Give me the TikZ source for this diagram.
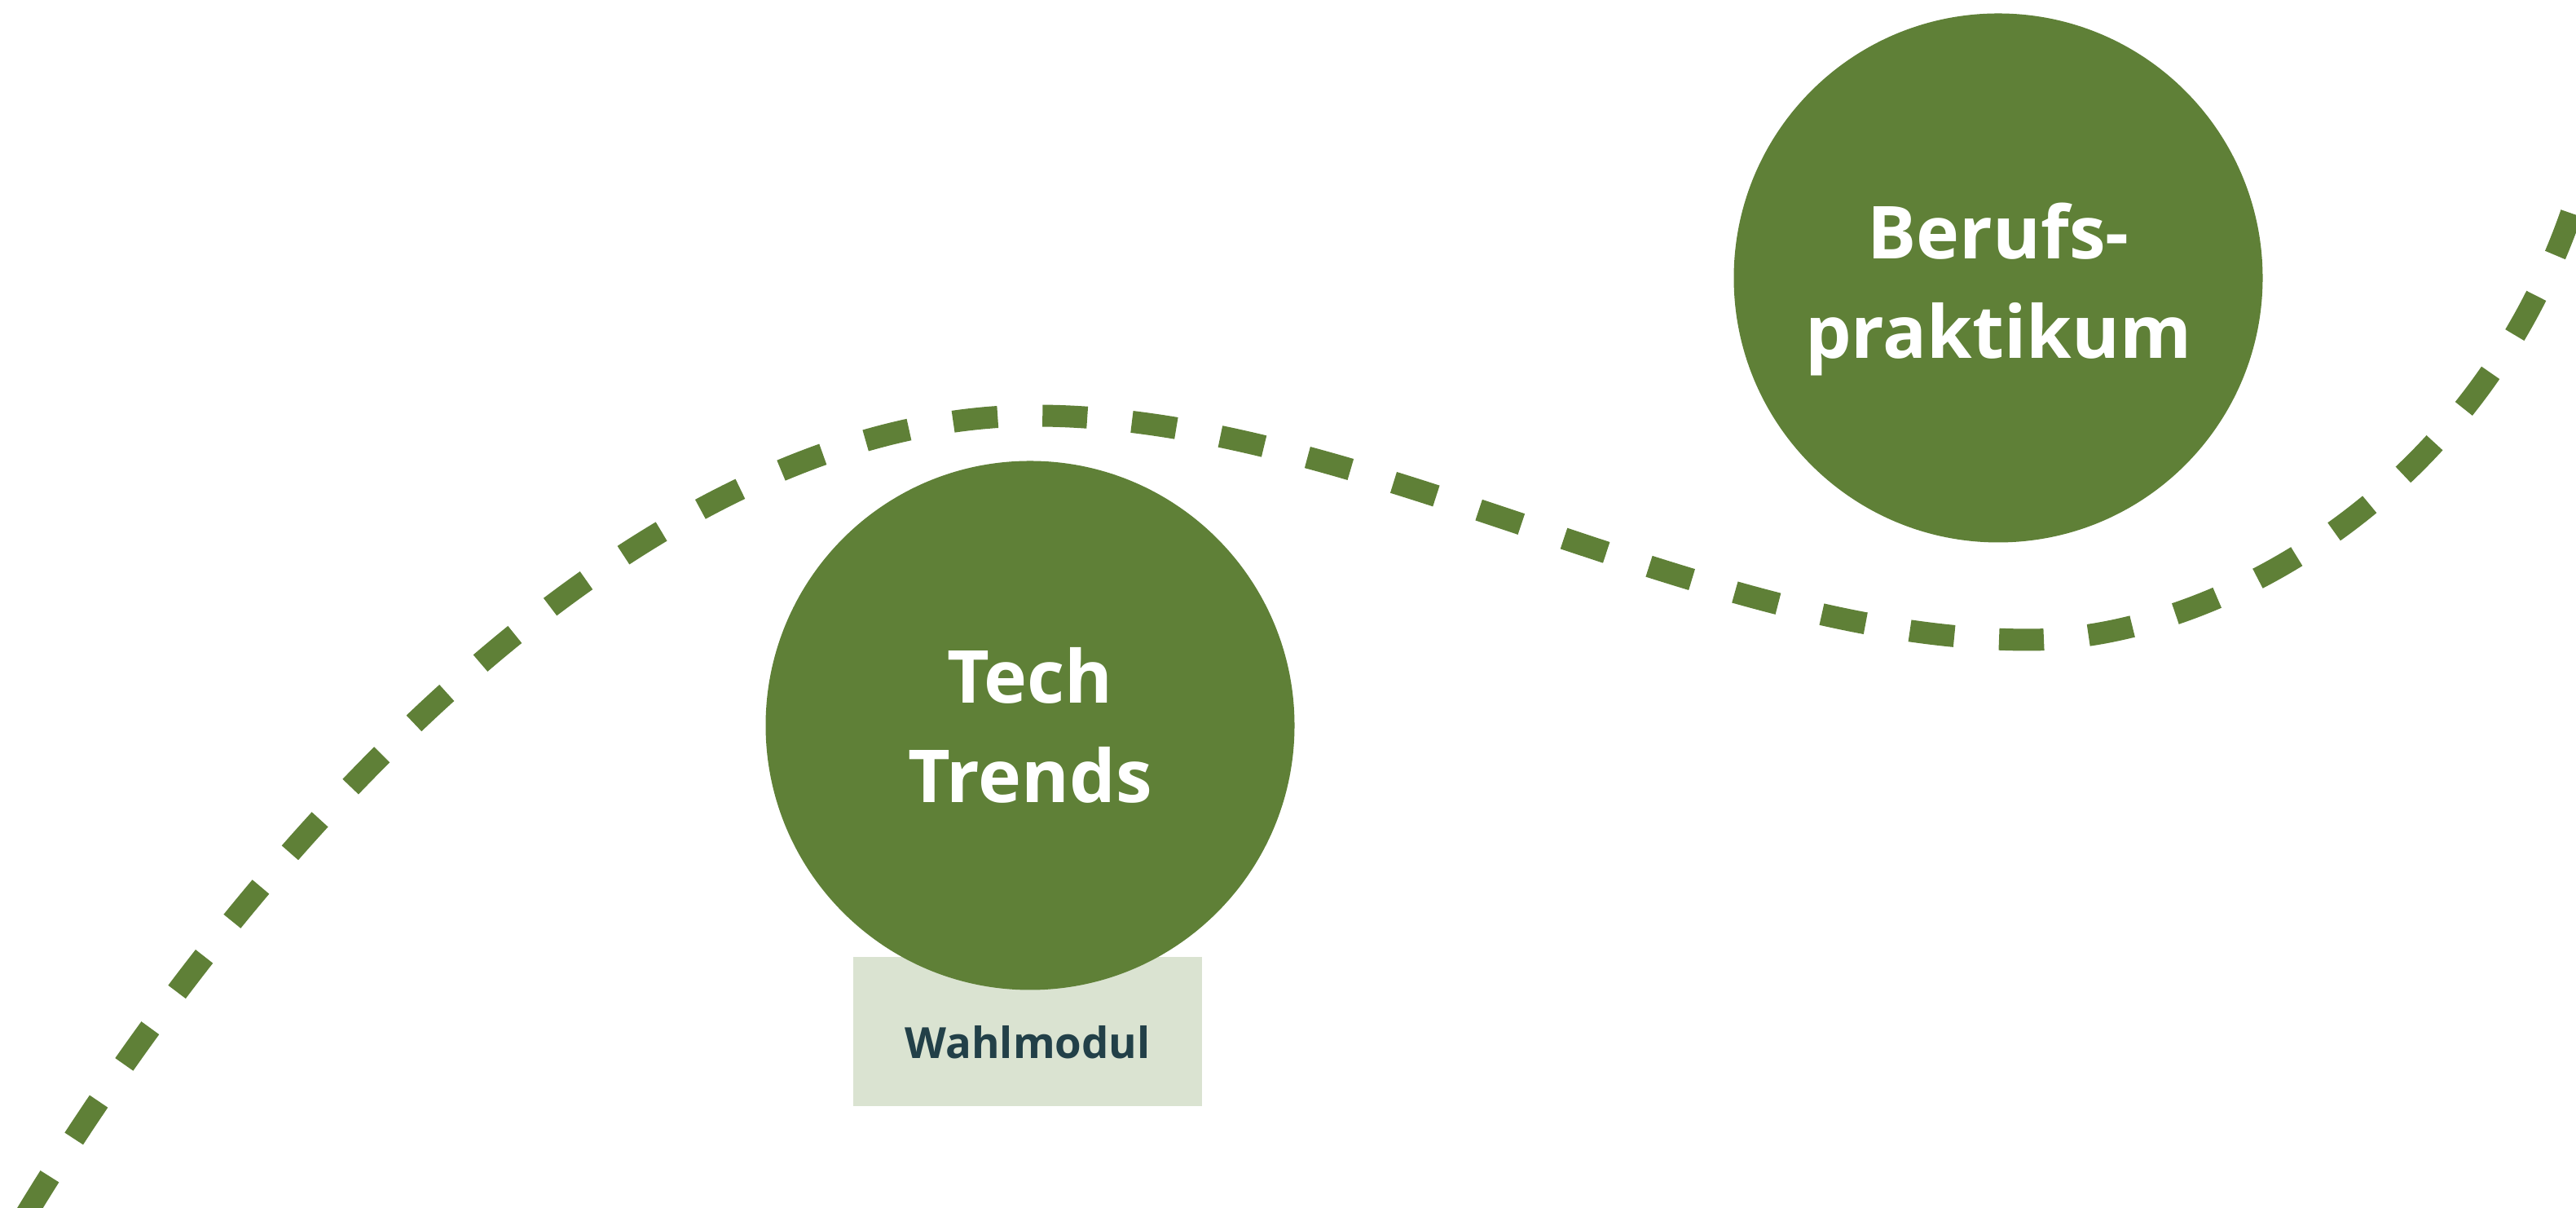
\documentclass[tikz,border=0pt]{standalone}
\usepackage{fontspec}
\setmainfont{Open Sans}
\usetikzlibrary{positioning}
\definecolor{leaf}{HTML}{5F8037}
\definecolor{pale}{HTML}{DAE3D1}
\definecolor{ink}{HTML}{224048}

\begin{document}
\begin{tikzpicture}[
        bubble/.style={circle, fill=leaf, minimum size=6.49cm, inner sep=0pt},
        bubbletext/.style={text=white, align=center, font=\bfseries\fontsize{25.5}{34.6}\selectfont},
        tag/.style={fill=pale, minimum width=4.28cm, minimum height=1.83cm, inner sep=0pt},
        tagtext/.style={text=ink, font=\bfseries\fontsize{15}{18}\selectfont},
        trail/.style={leaf, line width=0.27cm, dash pattern=on 0.55cm off 0.55cm}
    ]
        \useasboundingbox (0,0) rectangle (31.61,14.82);
        \clip (0,0) rectangle (31.61,14.82);

        \coordinate (start) at (0.32,-0.08);
        \coordinate (crest) at (12.70,9.72);
        \coordinate (dip) at (24.90,6.97);
        \coordinate (exit) at (31.70,12.67);

        \draw[trail] (start) .. controls (3.30,4.82) and (8.00,9.72) .. (crest)
            .. controls (16.70,9.72) and (20.90,6.97) .. (dip)
            .. controls (27.20,6.97) and (30.60,8.82) .. (exit);

        \node[tag] (wahl) at (12.61,2.165) {};
        \node[tagtext] (wahllabel) at ([yshift=-0.13cm]wahl.center) {Wahlmodul};

        \node[bubble, bubbletext] (tech) at (12.64,5.92) {Tech\\Trends};

        \node[bubble] (beruf) at (24.52,11.41) {};
        \node[bubbletext] (beruflabel) at ([yshift=-0.14cm]beruf.center) {Berufs-\\praktikum};
    \end{tikzpicture}
\end{document}
